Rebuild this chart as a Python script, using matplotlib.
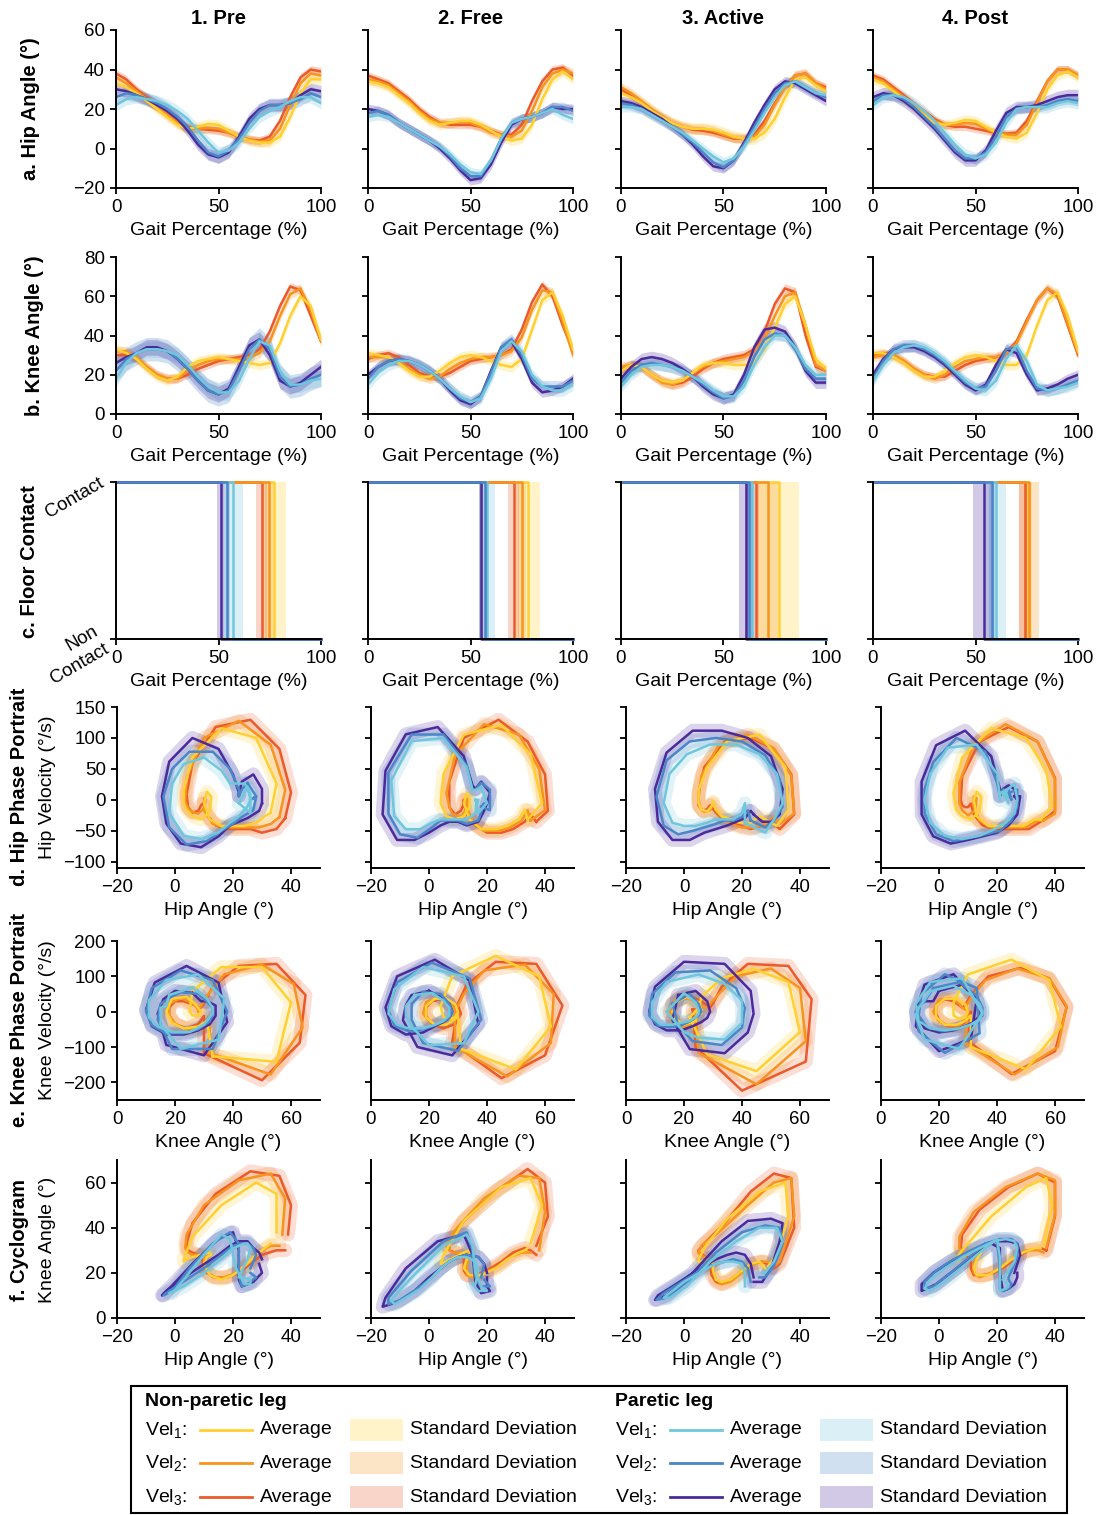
import numpy as np
import matplotlib.pyplot as plt
from matplotlib.lines import Line2D
from matplotlib.patches import Rectangle

plt.rcParams['font.family'] = ['Liberation Sans', 'DejaVu Sans']
plt.rcParams['mathtext.fontset'] = 'custom'
plt.rcParams['mathtext.rm'] = 'Liberation Sans'
plt.rcParams['mathtext.it'] = 'Liberation Sans'

#%% DATA
gait = np.arange(0, 101, 5)          # gait percentage (%)
conditions = ['1. Pre', '2. Free', '3. Active', '4. Post']
cycle_time = [1.9, 1.8, 1.7]         # gait cycle duration (s) for Vel1, Vel2, Vel3

# hip angle (deg) -- rows: Vel1, Vel2, Vel3
pre_hip_np = [
    [33, 31, 28, 24, 20, 16, 12, 10, 11, 12.5, 12, 9, 6, 4, 3, 3, 6, 16, 28, 35, 35],
    [36, 33, 29, 25, 21, 17, 13, 10, 10, 10.5, 10, 8, 6, 4.5, 3.5, 4, 10, 22, 33, 38, 37],
    [38, 35, 30, 26, 22, 18, 14, 11, 10, 9.5, 9, 8, 6, 4.5, 4, 6, 14, 26, 36, 40, 39]]
pre_hip_p = [
    [22, 25, 26, 25, 24, 22, 19, 15, 9, 3, -2, -1, 3, 10, 16, 19, 21, 24, 26, 26, 23],
    [26, 28, 27, 25, 23, 20, 16, 11, 4, -2, -4, -1, 5, 13, 19, 22, 22, 23, 25, 28, 26],
    [30, 29, 27, 25, 22, 19, 15, 9, 2, -3, -4.5, -2, 6, 15, 20, 22, 22, 23, 27, 30, 29]]
free_hip_np = [
    [34, 33, 31, 27, 23, 18, 14, 12, 13, 14, 14, 12, 9, 6, 4, 5, 12, 25, 35, 39, 35],
    [35, 34, 32, 28, 24, 19, 15, 13, 13, 13.5, 13, 11, 8, 7, 6, 9, 19, 31, 38, 40, 38],
    [37, 35, 33, 29, 25, 20, 16, 13, 12, 12, 12, 11, 9, 7, 7, 12, 24, 34, 40, 41, 37]]
free_hip_p = [
    [16, 17, 16, 13, 10, 7, 4, 1, -3, -8, -12, -13, -6, 5, 13, 15, 16, 18, 20, 17, 15],
    [18, 19, 17, 13, 10, 7, 4, 1, -4, -10, -14, -14, -6, 5, 13, 15, 16, 18, 21, 21, 19],
    [20, 19, 17, 13, 10, 7, 4, 0, -5, -11, -16, -15, -8, 3, 12, 15, 16, 18, 21, 20, 20]]
active_hip_np = [
    [28, 26, 23, 19, 16, 13, 11, 10, 10, 9.5, 8, 6, 5, 5, 8, 15, 26, 35, 36, 32, 29],
    [31, 28, 24, 20, 16, 13, 11, 10, 10, 9, 7, 5.5, 5, 6, 12, 22, 31, 37, 38, 33, 30],
    [30, 27, 23, 19, 16, 13, 11, 9.5, 9, 8, 6.5, 5, 5, 7, 14, 23, 31, 37, 38, 33, 31]]
active_hip_p = [
    [21, 21, 20, 17, 14, 11, 8, 4, 0, -4, -7, -5, 1, 9, 18, 26, 32, 34, 31, 28, 27],
    [23, 22, 20, 17, 14, 11, 7, 3, -2, -7, -9.5, -6, 2, 11, 20, 28, 33, 34, 31, 28, 26],
    [24, 23, 21, 18, 15, 11, 7, 2, -4, -9, -10, -6, 3, 13, 22, 30, 34, 33, 30, 27, 24]]
post_hip_np = [
    [35, 33, 29, 25, 21, 17, 13, 12, 13, 14.5, 14, 11, 8, 6, 5, 8, 18, 30, 37, 39, 36],
    [36, 34, 30, 26, 22, 18, 14, 12, 12, 13, 12.5, 10, 8, 7, 7, 12, 23, 34, 40, 40, 37],
    [37, 35, 31, 27, 23, 19, 15, 12, 11, 11, 10, 9, 8, 7.5, 8, 14, 24, 34, 40, 40, 37]]
post_hip_p = [
    [22, 26, 27, 26, 23, 19, 14, 8, 2, -3, -5, -3, 3, 13, 20, 21, 21, 21, 23, 24, 23],
    [24, 27, 27, 25, 21, 16, 11, 5, -1, -5, -5, -2, 6, 16, 20, 21, 21, 22, 24, 25, 24],
    [26, 28, 27, 24, 20, 15, 10, 4, -2, -6, -6, -1, 9, 18, 21, 21, 22, 24, 26, 27, 27]]

# knee angle (deg) -- rows: Vel1, Vel2, Vel3
pre_knee_np = [
    [33, 31, 28, 23, 19, 17, 19, 24, 27, 28, 29, 28, 27, 26, 25, 26, 36, 50, 60, 55, 38],
    [32, 32, 29, 24, 20, 18, 18, 22, 25, 27, 28, 28, 28, 29, 31, 37, 50, 61, 64, 53, 37],
    [30, 30, 28, 24, 20, 18, 18, 20, 23, 25, 27, 28, 29, 30, 33, 42, 55, 65, 63, 50, 37]]
pre_knee_p = [
    [18, 26, 31, 33, 33, 32, 30, 25, 19, 14, 11, 11, 17, 28, 37, 35, 22, 15, 15, 17, 18],
    [22, 28, 31, 33, 33, 32, 28, 23, 17, 12, 10, 12, 22, 33, 38, 33, 19, 14, 15, 18, 20],
    [26, 29, 31, 34, 34, 32, 28, 23, 17, 12, 10, 13, 24, 35, 38, 30, 17, 14, 16, 20, 24]]
free_knee_np = [
    [31, 30, 29, 26, 22, 19, 19, 22, 26, 29, 30, 29, 27, 25, 24, 28, 43, 58, 62, 50, 33],
    [29, 29, 29, 27, 23, 20, 18, 19, 23, 26, 28, 29, 29, 30, 32, 39, 53, 63, 62, 47, 30],
    [28, 30, 31, 29, 25, 21, 19, 19, 21, 24, 27, 28, 29, 30, 33, 43, 57, 66, 60, 45, 32]]
free_knee_p = [
    [15, 21, 25, 27, 27, 25, 22, 18, 13, 9, 6, 8, 18, 32, 37, 32, 20, 14, 12, 12, 15],
    [18, 24, 27, 28, 27, 25, 22, 18, 13, 8, 6, 9, 21, 34, 38, 30, 18, 14, 14, 14, 17],
    [20, 24, 27, 28, 27, 25, 22, 18, 12, 7, 5, 9, 22, 34, 37, 28, 16, 11, 12, 14, 18]]
active_knee_np = [
    [22, 25, 24, 20, 17, 16, 17, 21, 25, 26, 26, 25, 25, 26, 33, 44, 56, 60, 45, 28, 23],
    [24, 25, 24, 20, 16, 15, 17, 21, 24, 26, 27, 28, 29, 32, 38, 50, 60, 62, 45, 25, 22],
    [23, 25, 24, 20, 17, 15, 16, 19, 23, 26, 28, 29, 30, 33, 42, 56, 64, 62, 40, 24, 22]]
active_knee_p = [
    [14, 20, 24, 25, 25, 24, 22, 19, 16, 12, 9, 9, 14, 25, 34, 40, 40, 34, 25, 20, 20],
    [16, 22, 25, 26, 25, 24, 22, 19, 15, 11, 8, 9, 17, 29, 38, 41, 40, 33, 23, 18, 18],
    [18, 24, 28, 29, 28, 26, 23, 19, 14, 10, 8, 10, 20, 34, 43, 44, 42, 34, 22, 16, 16]]
post_knee_np = [
    [31, 31, 29, 26, 22, 19, 19, 22, 26, 29, 30, 29, 27, 25, 25, 30, 45, 58, 62, 50, 32],
    [29, 30, 30, 27, 23, 20, 18, 20, 24, 27, 28, 29, 29, 31, 36, 47, 58, 64, 61, 46, 31],
    [30, 31, 30, 27, 23, 20, 19, 19, 22, 25, 27, 28, 29, 31, 37, 48, 58, 64, 60, 45, 30]]
post_knee_p = [
    [17, 25, 31, 34, 35, 34, 31, 27, 22, 17, 13, 12, 17, 28, 35, 27, 15, 12, 13, 14, 16],
    [18, 27, 33, 35, 35, 33, 30, 26, 21, 16, 13, 14, 22, 33, 34, 22, 13, 12, 13, 15, 17],
    [20, 28, 33, 34, 34, 32, 29, 25, 20, 15, 12, 15, 25, 33, 31, 20, 12, 13, 15, 18, 20]]

# standard deviations (deg) per condition -- Vel1, Vel2, Vel3
hip_sd_np = [[2.5, 2.5, 2], [2.5, 2.5, 2], [3, 2.5, 2], [2.5, 2, 2]]
hip_sd_p = [[3, 3.5, 3], [2.5, 2.5, 2.5], [2.5, 2.5, 2.5], [3, 2.5, 3]]
knee_sd_np = [[2.5, 2.5, 2], [2.5, 2.5, 2], [2.5, 2.5, 2.5], [2.5, 2.5, 2]]
knee_sd_p = [[4, 6, 4], [3, 3, 2.5], [3, 3, 3], [3, 3, 2.5]]

# toe-off (% gait) and its SD -- Vel1, Vel2, Vel3
toe_np = [[77, 74.5, 71], [78, 75, 71], [77, 71.5, 66], [75.5, 76, 74]]
toe_sd_np = [[6, 2, 2.5], [6, 2, 2.5], [10, 5, 1.5], [2, 5, 3]]
toe_p = [[57, 54, 51], [58, 57, 55], [64, 62.5, 61], [60, 58, 54]]
toe_sd_p = [[5, 1.5, 1.5], [4, 1.5, 1], [1.5, 2, 3.5], [5, 1.5, 5]]

hip_np = [pre_hip_np, free_hip_np, active_hip_np, post_hip_np]
hip_p = [pre_hip_p, free_hip_p, active_hip_p, post_hip_p]
knee_np = [pre_knee_np, free_knee_np, active_knee_np, post_knee_np]
knee_p = [pre_knee_p, free_knee_p, active_knee_p, post_knee_p]

col_np = ['#FFD02F', '#F7941D', '#EB5A2B']
col_p = ['#6FC7DD', '#4A86C8', '#4B2A9B']

#%% FIGURE
W, H = 1114, 1515
fig = plt.figure(figsize=(W / 100, H / 100), dpi=100)


def add_ax(left, top, w, h):
    return fig.add_axes([left / W, 1 - (top + h) / H, w / W, h / H])


def style(ax):
    for s in ['top', 'right']:
        ax.spines[s].set_visible(False)
    for s in ['left', 'bottom']:
        ax.spines[s].set_linewidth(1.4)
    ax.tick_params(direction='out', length=4, width=1.3, labelsize=13.5, pad=4)


def velocity(a, T):
    # cyclic central difference over one gait cycle (0..95 %), closed loop
    a = np.array(a[:-1], dtype=float)
    v = (np.roll(a, -1) - np.roll(a, 1)) / 10.0 * 100 / T
    return np.append(a, a[0]), np.append(v, v[0])


rows_top = [30, 257, 482, 707, 941, 1160]
rows_bot = [188, 414, 639, 868, 1100, 1318]
lefts_abc = [116, 368, 621, 873]
lefts_def = [117, 371, 626, 881]

lw_mean = 1.8
for j in range(4):
    legs = [(hip_np[j], knee_np[j], hip_sd_np[j], knee_sd_np[j], toe_np[j], toe_sd_np[j], col_np),
            (hip_p[j], knee_p[j], hip_sd_p[j], knee_sd_p[j], toe_p[j], toe_sd_p[j], col_p)]

    # a. hip angle, b. knee angle
    for r, (ylim, yt) in enumerate([((-20, 60), [-20, 0, 20, 40, 60]), ((0, 80), [0, 20, 40, 60, 80])]):
        ax = add_ax(lefts_abc[j], rows_top[r], 205, rows_bot[r] - rows_top[r])
        for hip, knee, hsd, ksd, toe, tsd, cols in legs:
            data, sd = (hip, hsd) if r == 0 else (knee, ksd)
            for i in range(3):
                m = np.array(data[i], dtype=float)
                ax.fill_between(gait, m - sd[i], m + sd[i], color=cols[i], alpha=0.25, lw=0)
        for hip, knee, hsd, ksd, toe, tsd, cols in legs:
            data = hip if r == 0 else knee
            for i in [2, 1, 0]:
                ax.plot(gait, data[i], color=cols[i], lw=lw_mean, solid_joinstyle='round')
        ax.set_xlim(0, 100)
        ax.set_ylim(*ylim)
        ax.set_yticks(yt)
        ax.set_xticks([0, 50, 100])
        ax.set_xlabel('Gait Percentage (%)', fontsize=14, labelpad=4)
        style(ax)
        if j > 0:
            ax.set_yticklabels([])
        if r == 0:
            ax.set_title(conditions[j], fontsize=14.5, fontweight='bold', pad=4)

    # c. floor contact
    ax = add_ax(lefts_abc[j], rows_top[2], 205, rows_bot[2] - rows_top[2])
    for hip, knee, hsd, ksd, toe, tsd, cols in legs:
        for i in range(3):
            ax.axvspan(toe[i] - tsd[i], toe[i] + tsd[i], color=cols[i], alpha=0.25, lw=0)
    for hip, knee, hsd, ksd, toe, tsd, cols in legs:
        for i in [0, 2, 1]:
            ax.plot([0, toe[i], toe[i], 100], [1, 1, 0, 0], color=cols[i], lw=lw_mean, clip_on=False)
    ax.set_xlim(0, 100)
    ax.set_ylim(0, 1)
    ax.set_xticks([0, 50, 100])
    ax.set_yticks([0, 1])
    style(ax)
    if j == 0:
        ax.set_yticklabels(['Non\nContact', 'Contact'], rotation=30, ha='right',
                           rotation_mode='anchor', va='center', linespacing=1.25)
        ax.tick_params(axis='y', pad=6)
    else:
        ax.set_yticklabels(['', ''])
    ax.set_xlabel('Gait Percentage (%)', fontsize=14, labelpad=4)

    # d. hip phase portrait, e. knee phase portrait, f. cyclogram
    for r in [3, 4, 5]:
        ax = add_ax(lefts_def[j], rows_top[r], 203, rows_bot[r] - rows_top[r])
        for band in [True, False]:
            for hip, knee, hsd, ksd, toe, tsd, cols in legs:
                for i in (range(3) if band else [2, 1, 0]):
                    if r == 3:
                        x, y = velocity(hip[i], cycle_time[i])
                    elif r == 4:
                        x, y = velocity(knee[i], cycle_time[i])
                    else:
                        x, y = hip[i], knee[i]
                    if band:
                        ax.plot(x, y, color=cols[i], lw=10, alpha=0.2,
                                solid_joinstyle='round', solid_capstyle='round')
                    else:
                        ax.plot(x, y, color=cols[i], lw=lw_mean, solid_joinstyle='round')
        if r == 3:
            ax.set_xlim(-20, 50)
            ax.set_ylim(-110, 150)
            ax.set_xticks([-20, 0, 20, 40])
            ax.set_yticks([-100, -50, 0, 50, 100, 150])
            ax.set_xlabel('Hip Angle (°)', fontsize=14, labelpad=4)
        elif r == 4:
            ax.set_xlim(0, 70)
            ax.set_ylim(-250, 200)
            ax.set_xticks([0, 20, 40, 60])
            ax.set_yticks([-200, -100, 0, 100, 200])
            ax.set_xlabel('Knee Angle (°)', fontsize=14, labelpad=4)
        else:
            ax.set_xlim(-20, 50)
            ax.set_ylim(0, 70)
            ax.set_xticks([-20, 0, 20, 40])
            ax.set_yticks([0, 20, 40, 60])
            ax.set_xlabel('Hip Angle (°)', fontsize=14, labelpad=4)
        style(ax)
        if j > 0:
            ax.set_yticklabels([])

#%% ROW LABELS
def ftext(x, y, s, **kw):
    fig.text(x / W, 1 - y / H, s, ha='center', va='center', rotation=90, **kw)


ftext(30, 109, 'a. Hip Angle (°)', fontsize=14.5, fontweight='bold')
ftext(35, 336, 'b. Knee Angle (°)', fontsize=14.5, fontweight='bold')
ftext(30, 562, 'c. Floor Contact', fontsize=14.5, fontweight='bold')
ftext(20, 787, 'd. Hip Phase Portrait', fontsize=14.5, fontweight='bold')
ftext(48, 787, 'Hip Velocity (°/s)', fontsize=14)
ftext(20, 1020, 'e. Knee Phase Portrait', fontsize=14.5, fontweight='bold')
ftext(48, 1020, 'Knee Velocity (°/s)', fontsize=14)
ftext(20, 1240, 'f. Cyclogram', fontsize=14.5, fontweight='bold')
ftext(48, 1240, 'Knee Angle (°)', fontsize=14)

#%% LEGEND
fig.add_artist(Rectangle((131 / W, 1 - 1513 / H), (1067 - 131) / W, (1513 - 1386) / H,
                         fill=False, ec='k', lw=1.5))
vel_names = ['Vel$_1$:', 'Vel$_2$:', 'Vel$_3$:']
row_y = [1430, 1463, 1497]
for x0, title, cols in [(145, 'Non-paretic leg', col_np), (615, 'Paretic leg', col_p)]:
    fig.text(x0 / W, 1 - 1402 / H, title, fontsize=14, fontweight='bold', va='center')
    for i in range(3):
        yy = 1 - row_y[i] / H
        fig.text(x0 / W, yy, vel_names[i], fontsize=14, va='center')
        fig.add_artist(Line2D([(x0 + 55) / W, (x0 + 107) / W], [yy, yy], color=cols[i], lw=2))
        fig.text((x0 + 115) / W, yy, 'Average', fontsize=14, va='center')
        fig.add_artist(Rectangle(((x0 + 205) / W, yy - 11 / H), 53 / W, 22 / H,
                                 color=cols[i], alpha=0.25, lw=0))
        fig.text((x0 + 265) / W, yy, 'Standard Deviation', fontsize=14, va='center')

fig.savefig('out.png', dpi=100)
